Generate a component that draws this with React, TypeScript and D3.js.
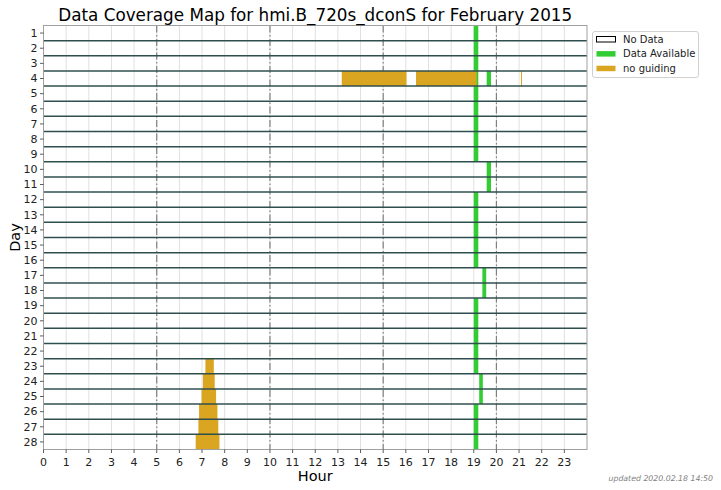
import React from "react";
import * as d3 from "d3";

// ---- data ----
const days: number[] = d3.range(1, 29);
const hourTicks: number[] = d3.range(0, 24);
const majorHours: number[] = [5, 10, 15, 20];
// Data Available: one interval per day [start, end] hours
const availStart: number[] = [19.0, 19.0, 19.0, 19.0, 19.0, 19.0, 19.0, 19.0, 19.0, 19.57, 19.57, 19.0, 19.0, 19.0, 19.0, 19.0, 19.38, 19.38, 19.0, 19.0, 19.0, 19.0, 19.0, 19.24, 19.24, 19.0, 19.0, 19.0];
const availEnd: number[] = [19.2, 19.2, 19.2, 19.2, 19.2, 19.2, 19.2, 19.2, 19.2, 19.76, 19.76, 19.2, 19.2, 19.2, 19.2, 19.2, 19.55, 19.55, 19.2, 19.2, 19.2, 19.2, 19.2, 19.4, 19.4, 19.2, 19.2, 19.2];
// extra availability segments
const extraAvailDay: number[] = [4];
const extraAvailStart: number[] = [19.57];
const extraAvailEnd: number[] = [19.76];
// no guiding segments
const noGuideDay: number[] = [4, 4, 4, 23, 24, 25, 26, 27, 28];
const noGuideStart: number[] = [13.17, 16.45, 21.07, 7.15, 7.04, 6.98, 6.87, 6.84, 6.72];
const noGuideEnd: number[] = [16.03, 19.13, 21.11, 7.52, 7.56, 7.62, 7.68, 7.72, 7.77];

const title = "Data Coverage Map for hmi.B_720s_dconS for February 2015";
const legendLabels: string[] = ["No Data", "Data Available", "no guiding"];
const updatedText = "updated 2020.02.18 14:50";

const W = 721, H = 490;
const PL = 43.5, PR = 587, PT = 25.5, PB = 449.5;
const GREEN = "#32CD32", GOLD = "#DAA520", ROWLINE = "#2F4F4F";
const FONT = "DejaVu Sans, sans-serif";

export default function App() {
  const x = d3.scaleLinear().domain([0, 24]).range([PL, PR]);
  const y = d3.scaleLinear().domain([0.5, 28.5]).range([PT, PB]);
  const rowH = y(1.5) - y(0.5);

  const avail = days.map((d, i) => ({ d, s: availStart[i], e: availEnd[i] }))
    .concat(extraAvailDay.map((d, i) => ({ d, s: extraAvailStart[i], e: extraAvailEnd[i] })));
  const guide = noGuideDay.map((d, i) => ({ d, s: noGuideStart[i], e: noGuideEnd[i] }));

  return (
    <svg width={W} height={H} style={{ position: "absolute", left: 0, top: 0, background: "#fff" }} fontFamily={FONT}>
      <rect x={0} y={0} width={W} height={H} fill="#fff" />
      {/* grid */}
      {hourTicks.map((h) => (
        <line key={"g" + h} x1={x(h)} x2={x(h)} y1={PT} y2={PB} stroke="#e0e0e0" strokeWidth={1} />
      ))}
      {majorHours.map((h) => (
        <line key={"m" + h} x1={x(h)} x2={x(h)} y1={PT} y2={PB} stroke="#808080" strokeWidth={1.2} strokeDasharray="7,2.5,1.5,2.5" />
      ))}
      {/* available */}
      {avail.map((a, i) => (
        <rect key={"a" + i} x={x(a.s)} width={Math.max(1, x(a.e) - x(a.s))} y={y(a.d - 0.5)} height={rowH} fill={GREEN} />
      ))}
      {/* no guiding */}
      {guide.map((g, i) => {
        const w = x(g.e) - x(g.s);
        const gx = w < 2 ? Math.round(x(g.s)) : x(g.s);
        return (
          <rect key={"n" + i} x={gx} width={Math.max(1, w)} y={y(g.d - 0.5)} height={rowH} fill={GOLD} />
        );
      })}
      {/* row separators */}
      {days.slice(0, -1).map((d) => (
        <line key={"r" + d} x1={PL} x2={PR} y1={y(d + 0.5)} y2={y(d + 0.5)} stroke={ROWLINE} strokeWidth={1.5} />
      ))}
      {/* frame */}
      <rect x={PL} y={PT} width={PR - PL} height={PB - PT} fill="none" stroke="#a0a0a0" strokeWidth={1} />
      {/* y ticks */}
      {days.map((d) => (
        <g key={"yt" + d}>
          <line x1={PL - 3.5} x2={PL} y1={y(d)} y2={y(d)} stroke="#333" strokeWidth={0.8} />
          <text x={PL - 6} y={y(d)} dy="0.35em" textAnchor="end" fontSize={11} fill="#222">{d}</text>
        </g>
      ))}
      {/* x ticks */}
      {hourTicks.map((h) => (
        <g key={"xt" + h}>
          <line x1={x(h)} x2={x(h)} y1={PB} y2={PB + 3.5} stroke="#333" strokeWidth={0.8} />
          <text x={x(h)} y={PB + 16} textAnchor="middle" fontSize={11} fill="#222">{h}</text>
        </g>
      ))}
      {/* labels */}
      <text x={(PL + PR) / 2} y={21} textAnchor="middle" fontSize={16.8} fill="#000">{title}</text>
      <text x={(PL + PR) / 2} y={481} textAnchor="middle" fontSize={14.5} fill="#000">Hour</text>
      <text transform={`translate(20,${(PT + PB) / 2}) rotate(-90)`} textAnchor="middle" fontSize={14.5} fill="#000">Day</text>
      <text x={713} y={481} textAnchor="end" fontSize={7.8} fontStyle="italic" fill="#808080">{updatedText}</text>
      {/* legend */}
      <rect x={592.5} y={31.5} width={106} height={46} rx={2.5} fill="#fff" stroke="#d0d0d0" strokeWidth={1} />
      {legendLabels.map((l, i) => (
        <g key={"l" + i}>
          <rect x={596.5} y={36.5 + i * 14.6} width={19} height={5.5}
            fill={i === 0 ? "#fff" : i === 1 ? GREEN : GOLD}
            stroke={i === 0 ? "#000" : "none"} strokeWidth={1} />
          <text x={623} y={39.2 + i * 14.6} dy="0.35em" fontSize={10} fill="#222">{l}</text>
        </g>
      ))}
    </svg>
  );
}
